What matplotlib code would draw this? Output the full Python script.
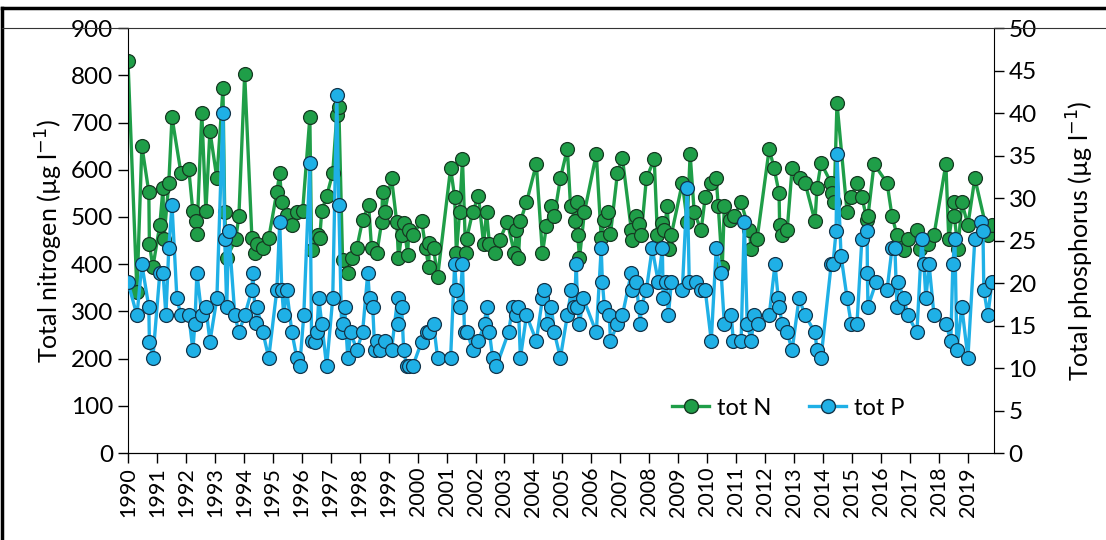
import matplotlib
matplotlib.use("Agg")
import matplotlib.pyplot as plt
from matplotlib.lines import Line2D

plt.rcParams['font.family'] = ['Lato', 'DejaVu Sans']

# sampling dates (decimal years) and total nitrogen (ug/l)
n_date = [1990.00, 1990.31, 1990.48, 1990.72, 1990.74, 1990.86, 1991.10, 1991.21, 1991.24, 1991.41,
          1991.52, 1991.83, 1992.10, 1992.24, 1992.34, 1992.38, 1992.55, 1992.69, 1992.83, 1993.07,
          1993.28, 1993.34, 1993.41, 1993.72, 1993.83, 1994.03, 1994.28, 1994.38, 1994.45, 1994.66,
          1994.86, 1995.14, 1995.24, 1995.31, 1995.48, 1995.66, 1995.83, 1996.03, 1996.28, 1996.34,
          1996.55, 1996.62, 1996.69, 1996.86, 1997.07, 1997.21, 1997.28, 1997.41, 1997.59, 1997.72,
          1997.90, 1998.10, 1998.31, 1998.41, 1998.59, 1998.76, 1998.79, 1998.86, 1999.10, 1999.28,
          1999.34, 1999.45, 1999.52, 1999.66, 1999.69, 1999.83, 2000.14, 2000.28, 2000.38, 2000.41,
          2000.55, 2000.69, 2001.14, 2001.28, 2001.34, 2001.45, 2001.55, 2001.66, 2001.69, 2001.90,
          2002.10, 2002.28, 2002.38, 2002.48, 2002.66, 2002.83, 2003.10, 2003.34, 2003.41, 2003.48,
          2003.55, 2003.76, 2004.10, 2004.31, 2004.45, 2004.62, 2004.72, 2004.93, 2005.17, 2005.28,
          2005.45, 2005.52, 2005.53, 2005.59, 2005.76, 2006.17, 2006.34, 2006.45, 2006.59, 2006.66,
          2006.90, 2007.07, 2007.38, 2007.40, 2007.55, 2007.66, 2007.72, 2007.90, 2008.17, 2008.28,
          2008.45, 2008.52, 2008.62, 2008.69, 2008.76, 2009.14, 2009.31, 2009.41, 2009.55, 2009.79,
          2009.93, 2010.14, 2010.31, 2010.38, 2010.52, 2010.59, 2010.79, 2010.93, 2011.17, 2011.45,
          2011.52, 2011.72, 2012.14, 2012.31, 2012.48, 2012.50, 2012.59, 2012.76, 2012.93, 2013.21,
          2013.38, 2013.72, 2013.79, 2013.93, 2014.28, 2014.31, 2014.38, 2014.48, 2014.83, 2014.97,
          2015.17, 2015.34, 2015.52, 2015.55, 2015.76, 2016.21, 2016.38, 2016.55, 2016.79, 2016.93,
          2017.24, 2017.34, 2017.62, 2017.83, 2018.24, 2018.34, 2018.52, 2018.53, 2018.66, 2018.79,
          2019.00, 2019.24, 2019.69, 2019.83]
tot_n = [831, 341, 650, 553, 443, 394, 483, 561, 453, 572,
         711, 593, 601, 512, 491, 464, 720, 512, 682, 582,
         773, 510, 413, 453, 502, 802, 455, 423, 443, 434,
         455, 553, 593, 531, 504, 483, 510, 512, 711, 430,
         462, 455, 512, 544, 593, 716, 733, 409, 381, 413,
         434, 493, 525, 434, 423, 489, 553, 510, 582, 489,
         413, 462, 487, 419, 472, 462, 491, 434, 394, 445,
         434, 373, 603, 542, 423, 510, 622, 423, 453, 510,
         544, 443, 510, 443, 423, 451, 489, 423, 472, 413,
         491, 531, 612, 423, 481, 523, 502, 582, 644, 523,
         491, 531, 462, 413, 510, 633, 455, 493, 510, 464,
         593, 625, 472, 451, 502, 485, 462, 582, 622, 462,
         487, 472, 523, 432, 462, 572, 489, 633, 510, 472,
         542, 572, 582, 523, 394, 523, 493, 502, 531, 472,
         432, 453, 644, 603, 551, 483, 462, 472, 603, 582,
         572, 491, 561, 614, 572, 551, 531, 741, 510, 542,
         572, 542, 493, 502, 612, 572, 502, 462, 430, 453,
         472, 432, 443, 462, 612, 453, 531, 502, 432, 531,
         483, 582, 462, 483]

# sampling dates (decimal years) and total phosphorus (ug/l)
p_date = [1990.00, 1990.31, 1990.48, 1990.72, 1990.74, 1990.86, 1991.10, 1991.21, 1991.31, 1991.41,
          1991.52, 1991.69, 1991.83, 1992.10, 1992.24, 1992.31, 1992.38, 1992.55, 1992.69, 1992.83,
          1993.07, 1993.28, 1993.34, 1993.41, 1993.48, 1993.69, 1993.83, 1994.03, 1994.28, 1994.31,
          1994.41, 1994.45, 1994.66, 1994.86, 1995.14, 1995.24, 1995.31, 1995.38, 1995.48, 1995.66,
          1995.83, 1995.93, 1996.07, 1996.28, 1996.34, 1996.45, 1996.52, 1996.59, 1996.69, 1996.86,
          1997.07, 1997.21, 1997.28, 1997.38, 1997.41, 1997.48, 1997.59, 1997.69, 1997.90, 1998.10,
          1998.28, 1998.34, 1998.45, 1998.52, 1998.59, 1998.69, 1998.86, 1999.10, 1999.31, 1999.34,
          1999.45, 1999.52, 1999.62, 1999.72, 1999.83, 2000.14, 2000.31, 2000.41, 2000.55, 2000.69,
          2001.14, 2001.28, 2001.34, 2001.45, 2001.55, 2001.62, 2001.72, 2001.90, 2002.10, 2002.31,
          2002.38, 2002.48, 2002.59, 2002.72, 2003.14, 2003.28, 2003.41, 2003.48, 2003.55, 2003.76,
          2004.10, 2004.31, 2004.38, 2004.48, 2004.62, 2004.72, 2004.93, 2005.17, 2005.31, 2005.41,
          2005.48, 2005.52, 2005.59, 2005.72, 2006.17, 2006.34, 2006.38, 2006.45, 2006.62, 2006.66,
          2006.90, 2007.07, 2007.38, 2007.41, 2007.55, 2007.69, 2007.72, 2007.90, 2008.10, 2008.31,
          2008.45, 2008.48, 2008.59, 2008.66, 2008.76, 2009.14, 2009.31, 2009.38, 2009.62, 2009.79,
          2009.93, 2010.14, 2010.31, 2010.48, 2010.59, 2010.83, 2010.90, 2011.17, 2011.28, 2011.38,
          2011.52, 2011.62, 2011.76, 2012.14, 2012.34, 2012.45, 2012.48, 2012.59, 2012.76, 2012.93,
          2013.17, 2013.38, 2013.72, 2013.79, 2013.93, 2014.28, 2014.34, 2014.45, 2014.48, 2014.62,
          2014.83, 2014.97, 2015.17, 2015.34, 2015.52, 2015.53, 2015.55, 2015.83, 2016.21, 2016.38,
          2016.48, 2016.55, 2016.59, 2016.79, 2016.93, 2017.24, 2017.41, 2017.48, 2017.55, 2017.66,
          2017.83, 2018.24, 2018.41, 2018.48, 2018.55, 2018.62, 2018.79, 2019.00, 2019.24, 2019.45,
          2019.52, 2019.55, 2019.69, 2019.83]
tot_p = [20.1, 16.2, 22.2, 17.2, 13.1, 11.2, 21.2, 21.2, 16.2, 24.1,
         29.2, 18.2, 16.2, 16.2, 12.1, 15.2, 21.2, 16.2, 17.2, 13.1,
         18.2, 40.0, 25.2, 17.2, 26.1, 16.2, 14.2, 16.2, 19.2, 21.2,
         15.3, 17.2, 14.2, 11.2, 19.2, 27.2, 19.2, 16.2, 19.2, 14.2,
         11.2, 10.2, 16.2, 34.1, 13.2, 13.1, 14.2, 18.2, 15.2, 10.2,
         18.2, 42.1, 29.2, 14.2, 15.2, 17.2, 11.2, 14.2, 12.1, 14.2,
         21.2, 18.2, 17.2, 12.1, 13.2, 12.1, 13.2, 12.1, 18.2, 15.2,
         17.2, 12.1, 10.2, 10.2, 10.2, 13.1, 14.2, 14.2, 15.2, 11.2,
         11.2, 22.2, 19.2, 17.2, 22.2, 14.2, 14.2, 12.1, 13.2, 15.2,
         17.2, 14.2, 11.2, 10.2, 14.2, 17.2, 16.2, 17.2, 11.2, 16.2,
         13.2, 18.2, 19.2, 15.2, 17.2, 14.2, 11.2, 16.2, 19.2, 17.2,
         22.2, 17.2, 15.2, 18.2, 14.2, 24.1, 20.1, 17.2, 16.2, 13.2,
         15.2, 16.2, 21.2, 19.2, 20.1, 15.2, 17.2, 19.2, 24.1, 20.1,
         24.1, 18.2, 20.1, 16.2, 20.1, 19.2, 31.2, 20.1, 20.1, 19.2,
         19.2, 13.2, 24.1, 21.2, 15.2, 16.2, 13.2, 13.2, 27.2, 15.2,
         13.2, 16.2, 15.2, 16.2, 22.2, 18.2, 17.2, 15.2, 14.2, 12.1,
         18.2, 16.2, 14.2, 12.1, 11.2, 22.2, 22.2, 26.1, 35.2, 23.2,
         18.2, 15.2, 15.2, 25.2, 26.1, 21.2, 17.2, 20.1, 19.2, 24.1,
         24.1, 17.2, 20.1, 18.2, 16.2, 14.2, 25.2, 22.2, 18.2, 22.2,
         16.2, 15.2, 13.2, 22.2, 25.2, 12.1, 17.2, 11.2, 25.2, 27.2,
         26.1, 19.2, 16.2, 20.1]

years = list(range(1990, 2020))

green = '#1f9e48'
blue = '#1fb0e6'

fig = plt.figure(figsize=(11.06, 5.40), dpi=100)
ax = fig.add_axes([0.1157, 0.161, 0.783, 0.787])
ax2 = ax.twinx()

ax.plot(n_date, tot_n, color=green, lw=2.4, marker='o', ms=10,
        mfc=green, mec='#163a22', mew=0.9, label='tot N')
ax2.plot(p_date, tot_p, color=blue, lw=2.4, marker='o', ms=10,
         mfc=blue, mec='#13344a', mew=0.9, label='tot P')

ax.set_xlim(1990, 2019.9)
ax.set_ylim(0, 900)
ax2.set_ylim(0, 50)
ax.set_yticks(range(0, 901, 100))
ax2.set_yticks(range(0, 51, 5))
ax.set_xticks(years)
ax.set_xticklabels([str(y) for y in years], rotation=90, fontsize=15.5)

for a in (ax, ax2):
    a.spines['top'].set_visible(False)
    a.tick_params(axis='y', labelsize=17.5, length=7, width=1)
ax.spines['right'].set_visible(False)
ax2.spines['left'].set_visible(False)
ax.tick_params(axis='x', length=7, width=1, pad=3)

ax.set_ylabel('Total nitrogen (µg l$^{-1}$)', fontsize=18, labelpad=4)
ax2.set_ylabel('Total phosphorus (µg l$^{-1}$)', fontsize=18, labelpad=20)

handles = [Line2D([], [], color=green, lw=2.4, marker='o', ms=10, mfc=green, mec='#163a22'),
           Line2D([], [], color=blue, lw=2.4, marker='o', ms=10, mfc=blue, mec='#13344a')]
ax2.legend(handles, ['tot N', 'tot P'], loc='center', bbox_to_anchor=(0.762, 0.106),
           ncol=2, frameon=False, fontsize=17, handlelength=1.6, handletextpad=0.3,
           columnspacing=1.6)

# frame lines of the original picture: thick left and top, thin line at plot top
fig.add_artist(Line2D([0.002, 0.002], [0.0, 0.985], transform=fig.transFigure,
                      color='black', lw=2.5))
fig.add_artist(Line2D([0.002, 1.0], [0.985, 0.985], transform=fig.transFigure,
                      color='black', lw=2.5))
fig.add_artist(Line2D([0.002, 1.0], [0.948, 0.948], transform=fig.transFigure,
                      color='#333333', lw=0.8))

fig.savefig('out.png', dpi=100)
